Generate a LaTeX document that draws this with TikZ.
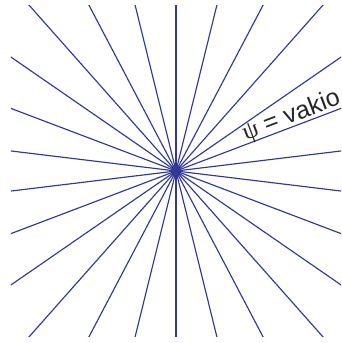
\documentclass[tikz,border=0pt]{standalone}
\usepackage{fontspec}
\setmainfont{Liberation Sans}
\newfontfamily\psifont{Liberation Serif}
\usetikzlibrary{calc}
\begin{document}
\begin{tikzpicture}[x=1pt,y=1pt,
  ray/.style={draw=raycol, line width=1.15pt},
  lbl/.style={font=\fontsize{25}{27}\selectfont, text=black!85, inner sep=0pt}]
\definecolor{raycol}{RGB}{48,56,150}
\useasboundingbox (-176,-172) rectangle (166,171);
\coordinate (c) at (0,0);
\begin{scope}
\clip (-165,-165) rectangle (165,165);
\foreach \k in {0,...,25}{
  \draw[ray] (c) -- ++({90+\k*360/26}:320);
}
\end{scope}
\fill[raycol] (c) circle (5);
\node[lbl, rotate={90-5*360/26}, anchor=base west] (t) at ($(c)+({90-5*360/26}:76)+({180-5*360/26}:4)$) {{\psifont ψ} = vakio};
\end{tikzpicture}
\end{document}
